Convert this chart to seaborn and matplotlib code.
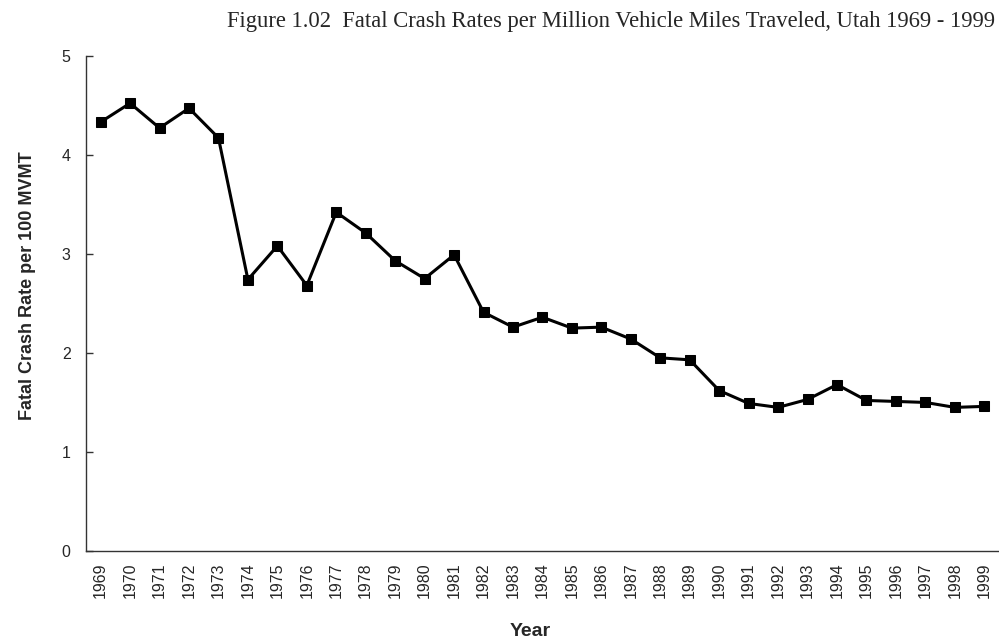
import pandas as pd
import seaborn as sns
from matplotlib import pyplot as plt

# data
years = [str(y) for y in range(1969, 2000)]
rates = [4.33, 4.52, 4.27, 4.47, 4.17, 2.74, 3.08, 2.68, 3.42, 3.21,
         2.93, 2.75, 2.99, 2.41, 2.26, 2.36, 2.25, 2.26, 2.14, 1.95,
         1.93, 1.62, 1.49, 1.45, 1.53, 1.68, 1.52, 1.51, 1.50, 1.45, 1.46]
yticks = [0, 1, 2, 3, 4, 5]

df = pd.DataFrame({'Year': years, 'Rate': rates})

sns.set_style('white')
plt.rcParams['font.family'] = ['Liberation Sans', 'DejaVu Sans']

fig = plt.figure(figsize=(9.99, 6.4), dpi=100)
ax = fig.add_axes([0.086, 0.139, 0.914, 0.774])
sns.lineplot(data=df, x='Year', y='Rate', ax=ax, color='black', linewidth=2.2,
             marker='s', markersize=7, markeredgecolor='black', sort=False)

ax.set_xlim(-0.5, len(years) - 0.5)
ax.set_ylim(0, 5)
ax.set_yticks(yticks)
ax.set_yticklabels([str(t) for t in yticks], fontsize=11.5)
ax.set_xticks(range(len(years)))
ax.set_xticklabels(years, rotation=90, fontsize=11.5)
ax.tick_params(axis='y', direction='in', length=5, width=1, color='#333333', pad=11, left=True)
ax.tick_params(axis='x', length=0, pad=8)

for s in ['top', 'right']:
    ax.spines[s].set_visible(False)
for s in ['left', 'bottom']:
    ax.spines[s].set_color('#333333')
    ax.spines[s].set_linewidth(1)

ax.set_xlabel('Year', fontsize=14, fontweight='bold')
ax.set_ylabel('Fatal Crash Rate per 100 MVMT', fontsize=13, fontweight='bold')
ax.xaxis.set_label_coords(0.487, -0.145)
ax.yaxis.set_label_coords(-0.055, 0.535)

fig.text(0.612, 0.966, 'Figure 1.02  Fatal Crash Rates per Million Vehicle Miles Traveled, Utah 1969 - 1999',
         ha='center', va='center', fontsize=16.3, family=['Liberation Serif', 'DejaVu Serif'])

fig.savefig('out.png', dpi=100)
